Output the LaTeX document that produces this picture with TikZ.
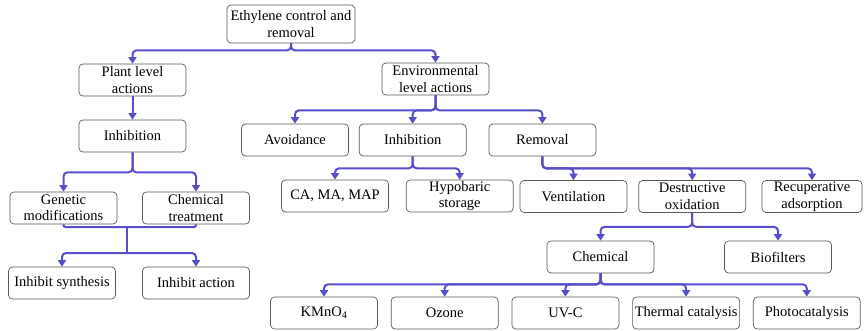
\documentclass[tikz,border=0pt]{standalone}
\usepackage{fontspec}
\setmainfont{Liberation Serif}
\usetikzlibrary{positioning}
\usetikzlibrary{arrows.meta}
\definecolor{linkblue}{RGB}{88,78,204}
\tikzstyle{box} = [draw=black!65, rounded corners=4pt, line width=0.7pt, minimum width=107pt, minimum height=32pt, inner sep=1pt, align=center, font=\fontsize{14.5}{16.5}\selectfont]
\tikzstyle{trunk} = [draw=linkblue, line width=2pt, rounded corners=4pt]
\tikzstyle{link} = [trunk, -{Triangle[width=8pt,length=6.5pt]}]

\begin{document}
\begin{tikzpicture}[x=1pt, y=-1pt]
  \useasboundingbox (0,0) rectangle (864,330);
  \node[box, minimum width=128pt, minimum height=38pt] (root) at (291,24) {Ethylene control and\\removal};
  \node[box] (plant) at (132.5,80) {Plant level\\actions};
  \node[box] (env) at (435.5,79) {Environmental\\level actions};

  % plant level branch
  \node[box] (inh_plant) at (132.5,136) {Inhibition};
  \node[box] (genetic) at (63.5,208) {Genetic\\modifications};
  \node[box] (chem_treat) at (196,208) {Chemical\\treatment};
  \node[box] (synth) at (62,283) {Inhibit synthesis};
  \node[box] (act) at (196,283) {Inhibit action};
  \coordinate (merge) at (127,227);
  \coordinate (split) at (127,253);

  \draw[link] (root.south) -- ++(0,7) -| (plant.north);
  \draw[link] (root.south) -- ++(0,7) -| (env.north);
  \draw[link] (plant) -- (inh_plant);
  \draw[link] (inh_plant.south) -- ++(0,20) -| (genetic.north);
  \draw[link] (inh_plant.south) -- ++(0,20) -| (chem_treat.north);
  \draw[trunk, rounded corners=2pt] (genetic.south) |- (merge);
  \draw[trunk, rounded corners=2pt] (chem_treat.south) |- (merge);
  \draw[trunk] (merge) -- (split);
  \draw[link] (split) -| (synth.north);
  \draw[link] (split) -| (act.north);

  % environmental level branch
  \node[box] (avoid) at (295,140) {Avoidance};
  \node[box, right=10pt of avoid] (inh_env) {Inhibition};
  \node[box, right=22pt of inh_env] (removal) {Removal};
  \node[box] (ca) at (335,196) {CA, MA, MAP};
  \node[box, right=17pt of ca] (hypo) {Hypobaric\\storage};
  \node[box] (vent) at (573.5,196.5) {Ventilation};
  \node[box, right=11pt of vent] (destr) {Destructive\\oxidation};
  \node[box, minimum width=100pt] (recup) at (812,196.5) {Recuperative\\adsorption};
  \node[box] (chemical) at (600.5,257) {Chemical};
  \node[box] (biof) at (778,257) {Biofilters};
  \node[box] (kmno4) at (324,313) {KMnO\textsubscript{4}};
  \node[box, right=13pt of kmno4] (ozone) {Ozone};
  \node[box, right=13pt of ozone] (uvc) {UV-C};
  \node[box, right=13pt of uvc] (thermal) {Thermal catalysis};
  \node[box, right=13pt of thermal] (photo) {Photocatalysis};

  \draw[link] (env.south) -- ++(0,15) -| (avoid.north);
  \draw[link] (env.south) -- ++(0,15) -| (inh_env.north);
  \draw[link] (env.south) -- ++(0,15) -| (removal.north);
  \draw[link] (inh_env.south) -- ++(0,12) -| (ca.north);
  \draw[link] (inh_env.south) -- ++(0,12) -| (hypo.north);
  \draw[link] (removal.south) -- ++(0,12) -| (vent.north);
  \draw[link] (removal.south) -- ++(0,12) -| (destr.north);
  \draw[link] (removal.south) -- ++(0,12) -| (recup.north);
  \draw[link] (destr.south) -- ++(0,14) -| (chemical.north);
  \draw[link] (destr.south) -- ++(0,14) -| (biof.north);
  \foreach \leaf in {kmno4, ozone, uvc, thermal, photo}
    \draw[link] (chemical.south) -- ++(0,11) -| (\leaf.north);
\end{tikzpicture}
\end{document}
